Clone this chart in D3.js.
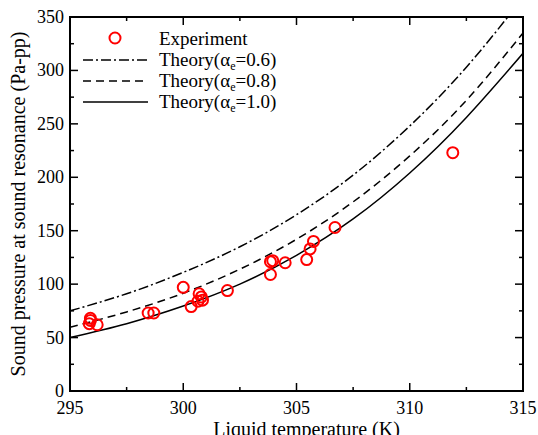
<!DOCTYPE html>
<html>
<head>
<meta charset="utf-8">
<script src="https://cdn.jsdelivr.net/npm/d3@7"></script>
<style>
  body { margin: 0; background: #fff; }
  svg text { font-family: 'Liberation Serif', 'Times New Roman', Times, 'DejaVu Serif', serif; fill: #000; }
</style>
</head>
<body>
<div id="chart"></div>
<script>
// experiment points
var tempK = [295.9, 295.9, 296.2, 295.85, 298.45, 298.7, 300.0, 300.35, 300.7, 300.65, 300.85, 300.8, 301.95,
             303.85, 303.85, 303.95, 304.5, 305.45, 305.6, 305.75, 306.7, 311.9];
var pressure = [68, 66, 62, 63, 73, 73, 97, 79, 91, 84, 85, 88, 94,
                121, 109, 122, 120, 123, 133, 140, 153, 223];

// theory curves
var theoryT = [295, 297.5, 300, 302.5, 305, 307.5, 310, 312.5, 315];
var theory06 = [75, 91, 111, 135, 165, 202, 248, 303, 368];
var theory08 = [59.6, 74, 91.5, 114, 142, 177, 220, 272, 335];
var theory10 = [50, 63, 79.5, 100, 127, 161, 204, 256, 316];

var xTicks = [295, 300, 305, 310, 315];
var yTicks = [0, 50, 100, 150, 200, 250, 300, 350];

var width = 538, height = 435;
var margin = {left: 70, right: 15, top: 17, bottom: 44};
var serif = "'Liberation Serif', 'Times New Roman', Times, serif";

var svg = d3.select("#chart").append("svg")
    .attr("width", width)
    .attr("height", height)
    .attr("font-family", serif);

var x = d3.scaleLinear().domain([295, 315]).range([margin.left, width - margin.right]);
var y = d3.scaleLinear().domain([0, 350]).range([height - margin.bottom, margin.top]);

svg.append("clipPath").attr("id", "plotClip")
  .append("rect")
    .attr("x", x(295)).attr("y", y(350))
    .attr("width", x(315) - x(295)).attr("height", y(0) - y(350));

// ticks (inward, all four sides)
var xMinor = d3.range(295, 315.01, 2.5);
var yMinor = d3.range(0, 350.01, 25);
var g = svg.append("g").attr("stroke", "#000").attr("stroke-width", 1.5);
xMinor.forEach(function (v) {
    var len = xTicks.indexOf(v) >= 0 ? 8 : 4;
    g.append("line").attr("x1", x(v)).attr("x2", x(v)).attr("y1", y(0)).attr("y2", y(0) - len);
    g.append("line").attr("x1", x(v)).attr("x2", x(v)).attr("y1", y(350)).attr("y2", y(350) + len);
});
yMinor.forEach(function (v) {
    var len = yTicks.indexOf(v) >= 0 ? 8 : 4;
    g.append("line").attr("y1", y(v)).attr("y2", y(v)).attr("x1", x(295)).attr("x2", x(295) + len);
    g.append("line").attr("y1", y(v)).attr("y2", y(v)).attr("x1", x(315)).attr("x2", x(315) - len);
});

// tick labels
svg.selectAll(".xl").data(xTicks).enter().append("text")
    .attr("x", function (d) { return x(d); })
    .attr("y", y(0) + 23)
    .attr("text-anchor", "middle")
    .attr("font-size", "18px")
    .text(function (d) { return d; });
svg.selectAll(".yl").data(yTicks).enter().append("text")
    .attr("x", x(295) - 6)
    .attr("y", function (d) { return y(d) + 6; })
    .attr("text-anchor", "end")
    .attr("font-size", "18px")
    .text(function (d) { return d; });

// axis titles
svg.append("text")
    .attr("x", (x(295) + x(315)) / 2 + 10)
    .attr("y", y(0) + 45)
    .attr("text-anchor", "middle")
    .attr("font-size", "20px")
    .text("Liquid temperature (K)");
svg.append("text")
    .attr("transform", "translate(25," + ((y(0) + y(350)) / 2) + ") rotate(-90)")
    .attr("text-anchor", "middle")
    .attr("font-size", "20px")
    .text("Sound pressure at sound resonance (Pa-pp)");

// theory lines
var line = d3.line()
    .x(function (d) { return x(d[0]); })
    .y(function (d) { return y(d[1]); })
    .curve(d3.curveNatural);

var series = [
    {vals: theory06, dash: "10,3,2,3", label: "0.6"},
    {vals: theory08, dash: "8,5", label: "0.8"},
    {vals: theory10, dash: null, label: "1.0"}
];
var curves = svg.append("g").attr("clip-path", "url(#plotClip)");
series.forEach(function (s) {
    curves.append("path")
        .datum(theoryT.map(function (t, i) { return [t, s.vals[i]]; }))
        .attr("d", line)
        .attr("fill", "none")
        .attr("stroke", "#000")
        .attr("stroke-width", 1.5)
        .attr("stroke-dasharray", s.dash);
});

// experiment points
svg.append("g").selectAll("circle")
    .data(tempK.map(function (t, i) { return [t, pressure[i]]; }))
    .enter().append("circle")
    .attr("cx", function (d) { return x(d[0]); })
    .attr("cy", function (d) { return y(d[1]); })
    .attr("r", 5.5)
    .attr("fill", "none")
    .attr("stroke", "#ff0000")
    .attr("stroke-width", 2);

// frame
svg.append("rect")
    .attr("x", x(295)).attr("y", y(350))
    .attr("width", x(315) - x(295)).attr("height", y(0) - y(350))
    .attr("fill", "none").attr("stroke", "#000").attr("stroke-width", 2);

// legend
var lg = svg.append("g");
lg.append("circle").attr("cx", 115).attr("cy", 38).attr("r", 5.5)
    .attr("fill", "none").attr("stroke", "#ff0000").attr("stroke-width", 2);
lg.append("text").attr("x", 159).attr("y", 45).attr("font-size", "19px").text("Experiment");
series.forEach(function (s, i) {
    var ly = 60 + i * 21;
    lg.append("line").attr("x1", 83).attr("x2", 148).attr("y1", ly).attr("y2", ly)
        .attr("stroke", "#000").attr("stroke-width", 1.5).attr("stroke-dasharray", s.dash);
    var t = lg.append("text").attr("x", 159).attr("y", ly + 6).attr("font-size", "19px");
    t.append("tspan").text("Theory(\u03b1");
    t.append("tspan").attr("font-size", "12px").attr("dy", 4).text("e");
    t.append("tspan").attr("dy", -4).text("=" + s.label + ")");
});
</script>
</body>
</html>
